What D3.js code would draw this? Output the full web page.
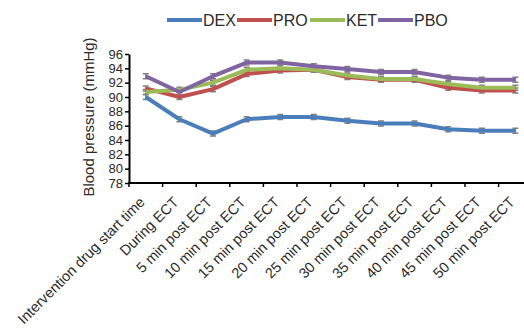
<!DOCTYPE html>
<html><head><meta charset="utf-8">
<script src="https://cdn.jsdelivr.net/npm/d3@7/dist/d3.min.js"></script>
<style>body{margin:0;background:#fff}svg{display:block;font-family:"Liberation Sans",Arial,sans-serif}</style>
</head><body>
<svg id="c" width="524" height="331"></svg>
<script>
const categories = ["Intervention drug start time","During ECT","5 min post ECT","10 min post ECT","15 min post ECT","20 min post ECT","25 min post ECT","30 min post ECT","35 min post ECT","40 min post ECT","45 min post ECT","50 min post ECT"];
const seriesNames = ["DEX","PRO","KET","PBO"];
const DEX = [90.0,86.9,84.9,86.9,87.2,87.2,86.7,86.3,86.3,85.5,85.3,85.3];
const PRO = [91.2,90.0,91.1,93.2,93.7,93.8,92.8,92.4,92.4,91.3,90.9,90.9];
const KET = [90.7,91.0,92.0,93.8,94.0,93.8,93.0,92.5,92.5,91.8,91.3,91.3];
const PBO = [92.9,90.7,92.9,94.8,94.8,94.3,93.9,93.5,93.5,92.7,92.4,92.4];
const errors = [0.35,0.35,0.35,0.35];
const yTicks = [78,80,82,84,86,88,90,92,94,96];
const colors = ["#4a7ebb","#c0504d","#9bbb59","#8064a2"];

const svg = d3.select("#c");
const x = d3.scaleBand().domain(categories).range([129, 532.2]).padding(0);
const y = d3.scaleLinear().domain([78,96]).range([183,54]);
const cx = c => x(c) + x.bandwidth()/2;
const textColor = "#2b2b2b";

// y axis
const ya = svg.append("g").attr("transform","translate(129,0)")
  .call(d3.axisLeft(y).tickValues(yTicks).tickSize(4).tickSizeOuter(0).tickPadding(2));
ya.select(".domain").attr("stroke","#000").attr("stroke-width",2);
ya.selectAll(".tick line").attr("stroke","#000").attr("stroke-width",1.5);
ya.selectAll(".tick text").attr("font-size",13).attr("fill",textColor).attr("font-family","Liberation Sans, Arial, sans-serif");

// x axis line + ticks at band boundaries
svg.append("line").attr("x1",128).attr("x2",524).attr("y1",y(78)).attr("y2",y(78)).attr("stroke","#000").attr("stroke-width",2);
svg.append("g").selectAll("line").data(categories).join("line")
  .attr("x1",d=>x(d)).attr("x2",d=>x(d)).attr("y1",y(78)).attr("y2",y(78)+4)
  .attr("stroke","#000").attr("stroke-width",1.5);
svg.append("g").selectAll("text").data(categories).join("text")
  .attr("transform",d=>`translate(${cx(d)},${y(78)+20}) rotate(-45)`)
  .attr("text-anchor","end")
  .attr("font-size",14.5).attr("fill",textColor).text(d=>d);

// y title
svg.append("text").attr("transform","translate(88,117) rotate(-90)")
  .attr("text-anchor","middle").attr("dominant-baseline","central")
  .attr("font-size",15).attr("fill",textColor).text("Blood pressure (mmHg)");

// series
const data = [DEX,PRO,KET,PBO];
const line = d3.line().x((d,i)=>cx(categories[i])).y(d=>y(d));
data.forEach((vals,si)=>{
  const g = svg.append("g");
  g.selectAll("path.eb").data(vals).join("path").attr("class","eb")
    .attr("d",(d,i)=>{const X=cx(categories[i]),e=errors[si];return `M${X-3},${y(d+e)}H${X+3}M${X},${y(d+e)}V${y(d-e)}M${X-3},${y(d-e)}H${X+3}`;})
    .attr("stroke","#808080").attr("stroke-width",1.5).attr("fill","none");
});
data.forEach((vals,si)=>{
  svg.append("path").datum(vals).attr("d",line).attr("fill","none")
    .attr("stroke",colors[si]).attr("stroke-width",4).attr("stroke-linejoin","round");
});

// legend
const legendX = [167,237,310,378];
const lg = svg.append("g");
seriesNames.forEach((n,i)=>{
  lg.append("line").attr("x1",legendX[i]).attr("x2",legendX[i]+35).attr("y1",20).attr("y2",20)
    .attr("stroke",colors[i]).attr("stroke-width",4);
  lg.append("text").attr("x",legendX[i]+36).attr("y",20).attr("dy","0.36em")
    .attr("font-size",16).attr("fill",textColor).text(n);
});
</script>
</body></html>
